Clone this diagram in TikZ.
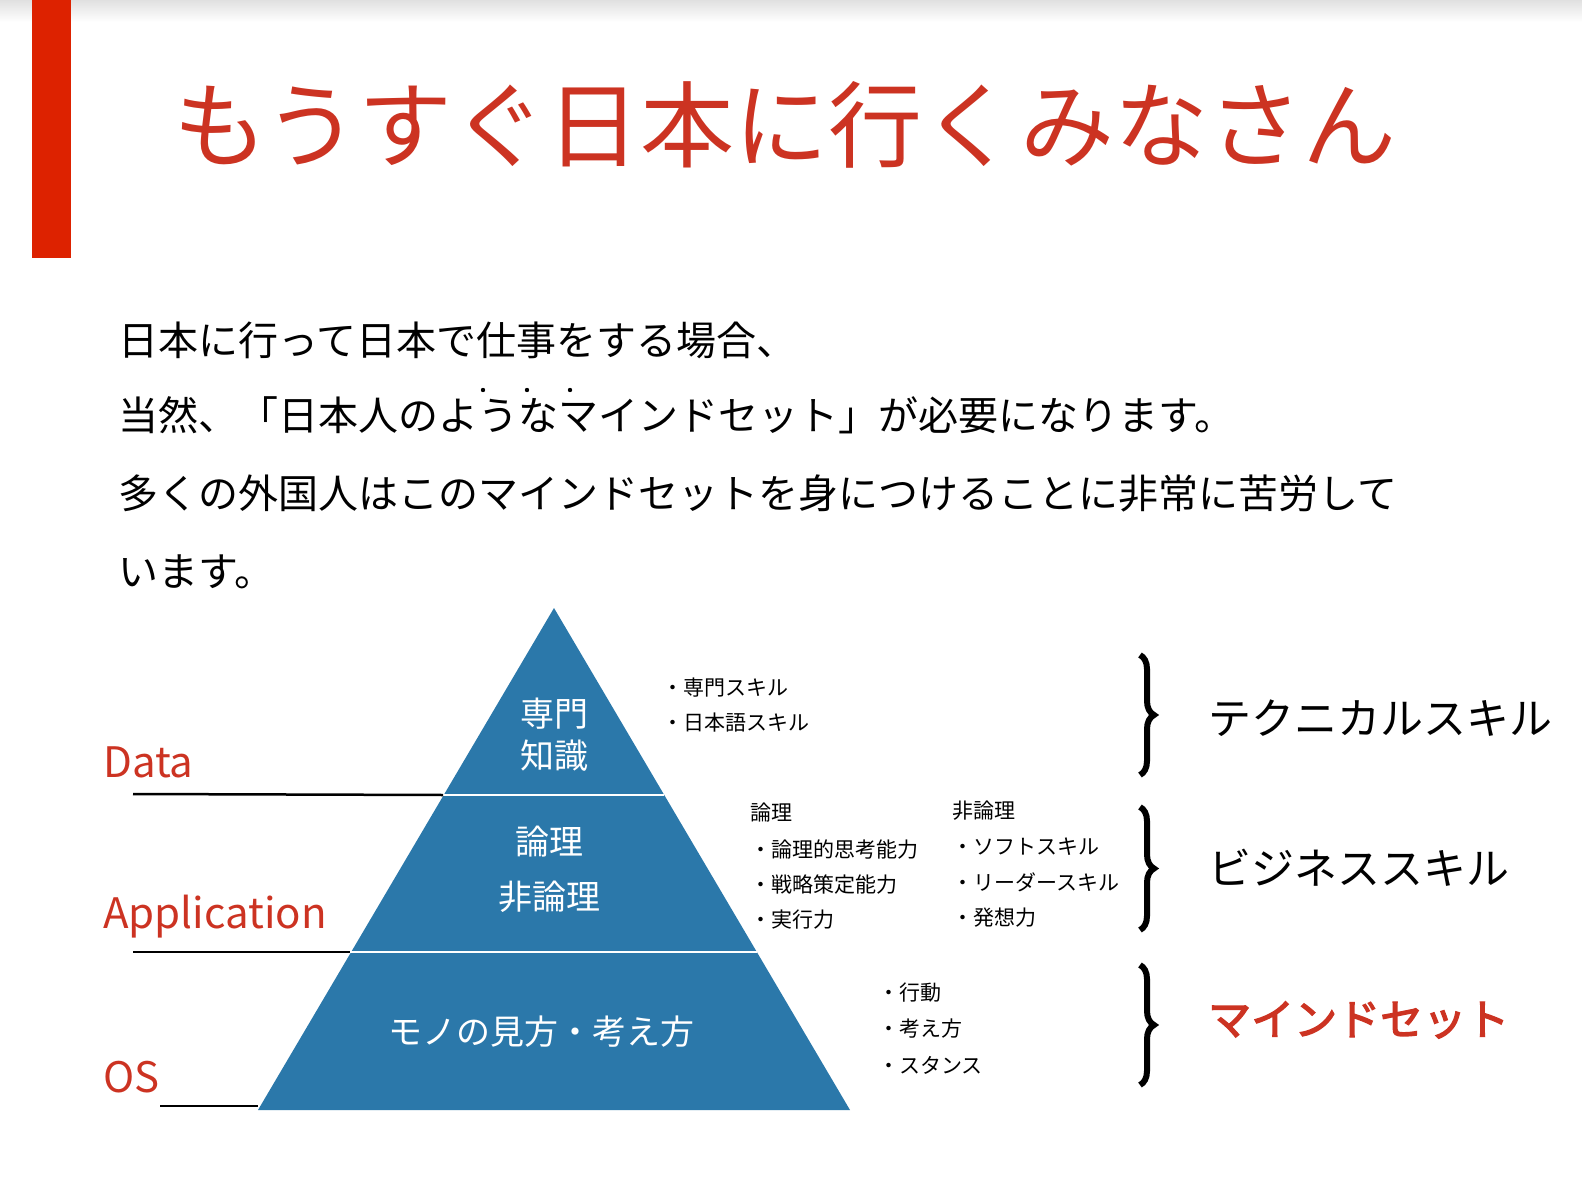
\documentclass[tikz,border=0pt]{standalone}
\usepackage{fontspec}
\setmainfont{Noto Sans CJK JP}
\newfontfamily\cjkbold[FakeBold=3]{Noto Sans CJK JP}
\usetikzlibrary{decorations.pathreplacing}
\definecolor{tred}{HTML}{CC3322}
\definecolor{bar}{HTML}{DD2200}
\definecolor{pyr}{HTML}{2B78AA}
\tikzset{
 para/.style={anchor=west,inner sep=0,font=\fontsize{40}{40}\selectfont},
 small/.style={anchor=west,inner sep=0,font=\fontsize{21}{21}\selectfont},
 inlbl/.style={text=white,inner sep=0,font=\fontsize{34}{34}\selectfont},
 side/.style={anchor=west,inner sep=0,font=\fontsize{43}{43}\selectfont},
 layer/.style={anchor=west,inner sep=0,text=tred,font=\fontsize{42}{42}\selectfont},
 brc/.style={decorate,decoration={brace,amplitude=14pt},line width=6pt},
 uline/.style={line width=2.5pt}
}
\begin{document}
\begin{tikzpicture}[x=1pt,y=-1pt]
\useasboundingbox (0,0) rectangle (1582,1182);
\shade[top color=black!12,bottom color=white] (0,0) rectangle (1582,22);
\fill[bar] (32,0) rectangle (71,258);
\node[inner sep=0,text=tred,font=\fontsize{94}{94}\selectfont] (title) at (785,125) {もうすぐ日本に行くみなさん};
\node[para] (p1) at (118,340) {日本に行って日本で仕事をする場合、};
\node[para] (p2) at (118,415) {当然、「日本人のようなマインドセット」が必要になります。};
\node[para] (p3) at (118,493) {多くの外国人はこのマインドセットを身につけることに非常に苦労して};
\node[para] (p4) at (118,572) {います。};
\foreach \x in {483,527,570} \fill (\x,390) circle (2.2);
% pyramid
\coordinate (apex) at (554,608);
\coordinate (bl) at (258,1110);
\coordinate (br) at (850,1110);
\fill[pyr] (apex) -- (br) -- (bl) -- cycle;
\coordinate (l1) at (443,795); \coordinate (r1) at (664,795);
\coordinate (l2) at (350,952); \coordinate (r2) at (757,952);
\draw[white,line width=2.5pt] (l1) -- (r1) (l2) -- (r2);
\node[inlbl,align=center] (t1) at (554,735) {専門\\[8pt]知識};
\node[inlbl] (t2) at (549,842) {論理};
\node[inlbl] (t3) at (549,897) {非論理};
\node[inlbl] (t4) at (541,1032) {モノの見方・考え方};
% layer labels
\node[layer] (data) at (103,762) {Data};
\node[layer] (app) at (103,917) {Application};
\node[layer] (os) at (103,1077) {OS};
\coordinate (d0) at (133,794); \coordinate (a0) at (133,952); \coordinate (o0) at (160,1106);
\draw[uline] (d0) -- (l1);
\draw[uline] (a0) -- (l2);
\draw[uline] (o0) -- (258,1106);
% small lists
\node[small] (s1) at (662,688) {・専門スキル};
\node[small] (s2) at (662,723) {・日本語スキル};
\node[small] (s3) at (750,813) {論理};
\node[small] (s4) at (750,850) {・論理的思考能力};
\node[small] (s5) at (750,885) {・戦略策定能力};
\node[small] (s6) at (750,920) {・実行力};
\node[small] (s7) at (952,811) {非論理};
\node[small] (s8) at (952,847) {・ソフトスキル};
\node[small] (s9) at (952,882) {・リーダースキル};
\node[small] (s10) at (952,918) {・発想力};
\node[small] (s11) at (878,993) {・行動};
\node[small] (s12) at (878,1029) {・考え方};
\node[small] (s13) at (878,1065) {・スタンス};
% braces
\draw[brc] (1140,655) -- (1140,775);
\draw[brc] (1140,807) -- (1140,930);
\draw[brc] (1140,965) -- (1140,1085);
\node[side] (k1) at (1208,718) {テクニカルスキル};
\node[side] (k2) at (1208,868) {ビジネススキル};
\node[side,text=tred,font=\fontsize{43}{43}\cjkbold] (k3) at (1208,1020) {マインドセット};
\end{tikzpicture}
\end{document}
